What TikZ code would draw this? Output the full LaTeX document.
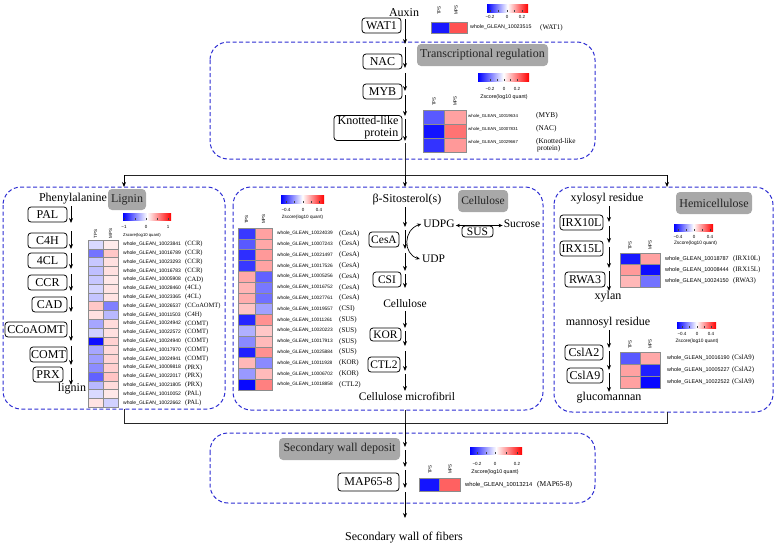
\documentclass[tikz,border=0pt]{standalone}
\usepackage{fontspec}
\setmainfont{Liberation Serif}
\newfontfamily\arial{Liberation Sans}
\usetikzlibrary{arrows.meta}
\definecolor{dashblue}{RGB}{45,45,210}
\definecolor{labgray}{RGB}{168,168,168}

% heatmap: x0, y0 (top), cell width, cell height, list tps/mps colours
\newcommand\heat[5]{%
  \foreach \ca/\cb [count=\i] in {#5} {%
    \fill[\ca] (#1,{#2+(\i-1)*#4}) rectangle ++(#3,#4);
    \fill[\cb] ({#1+#3},{#2+(\i-1)*#4}) rectangle ++(#3,#4);
    \draw[black!45, line width=0.3pt] (#1,{#2+(\i-1)*#4}) rectangle ++(#3,#4)
      ({#1+#3},{#2+(\i-1)*#4}) rectangle ++(#3,#4);
  }}
% gene labels: xgene, xname, y first row, dy, gene size, name size, list, prefix
\newcommand\genes[8]{%
  \foreach \id/\nm [count=\i] in {#7} {%
    \node[anchor=west, font=\arial\fontsize{#5}{#5}\selectfont] (#8g\i) at (#1,{#3+(\i-1)*#4}) {whole\_GLEAN\_\id};
    \node[anchor=west, font=\fontsize{#6}{#6}\selectfont] (#8n\i) at (#2,{#3+(\i-1)*#4}) {\nm};
  }}
% colour legend: x0, y0, w, h, label y, ticks, extra code
\newcommand\zleg[7]{%
  \shade[left color=blue, right color=red, middle color=white] (#1,#2) rectangle ++(#3,#4);
  \foreach \tx/\tl in {#6} {%
    \draw[line width=0.35pt, black!75] (\tx,{#2+#4}) -- ++(0,-2.2);
    \node[tick] at (\tx,#5) {\tl};
  }
  #7}
% TPS / MPS column labels
\newcommand\tpsmps[4]{%
  \node[cond, rotate=90, anchor=west] (#4tps) at (#1,#3) {TPS};
  \node[cond, rotate=90, anchor=west] (#4mps) at (#2,#3) {MPS};}

\begin{document}
\begin{tikzpicture}[x=1pt,y=-1pt,
  font=\fontsize{12}{12}\selectfont,
  every node/.style={inner sep=0pt},
  enz/.style={draw, rounded corners=3pt, line width=0.8pt, minimum height=15pt, inner sep=1pt},
  glab/.style={fill=labgray, rounded corners=4pt, minimum height=22pt, text=black!85},
  dbox/.style={draw=dashblue, dash pattern=on 4pt off 2.5pt, line width=1pt, rounded corners=18pt},
  arr/.style={-{Stealth[length=5pt,width=4pt]}, line width=0.8pt},
  ln/.style={line width=0.9pt, black!85},
  cond/.style={font=\arial\fontsize{4.5}{4.5}\selectfont},
  tick/.style={font=\arial\fontsize{4.5}{4.5}\selectfont},
  zs/.style={font=\arial\fontsize{4.8}{4.8}\selectfont},
  sm/.style={font=\fontsize{11.5}{11.5}\selectfont}]
\useasboundingbox (0,0) rectangle (777,544);

% ---------- dashed panels ----------
\draw[dbox] (210,42) rectangle (595,159);
\draw[dbox] (3,187) rectangle (225,409);
\draw[dbox] (233,187) rectangle (543,410);
\draw[dbox] (554,187) rectangle (773,412);
\draw[dbox] (210,433) rectangle (595,503);

% ---------- top ----------
\node (auxin) at (404,13) {Auxin};
\node[enz, minimum width=39pt] (wat1) at (381.5,25.5) {WAT1};
\heat{431}{22}{18}{11}{blue!90/red!68}
\tpsmps{439}{456}{15}{top}
\genes{470}{540}{27.5}{0}{5.3}{7}{10023515/{(WAT1)}}{top}
\zleg{487}{4}{41}{8}{17}{490/−0.2,498.5/{},507/0,514.5/{},522/0.2}{}

% ---------- transcriptional regulation ----------
\node[glab, minimum width=131pt] (trlab) at (482.5,55) {Transcriptional regulation};
\node[enz, minimum width=39pt] (nac) at (382.5,61.5) {NAC};
\node[enz, minimum width=39pt] (myb) at (382.5,91.5) {MYB};
\node[enz, minimum width=68pt, minimum height=24pt, align=right] (knot) at (368,128) {Knotted-like\\protein};
\heat{423}{110}{21.5}{14}{blue!65/red!37,blue!93/red!55,blue!80/red!40}
\tpsmps{434}{455}{106}{tr}
\genes{468}{536}{116}{13}{4.3}{7.3}{10019634/{(MYB)},10007831/{(NAC)},10029667/{(Knotted-like}}{tr}
\node[anchor=west, font=\fontsize{7.3}{7.3}\selectfont] (trprot) at (537,149) {protein)};
\zleg{478}{73}{51}{8}{89}{490/−0.2,497/{},504/0,510.5/{},517/0.2}{\node[zs, font=\arial\fontsize{5.3}{5.3}\selectfont] (trzs) at (504,97) {Zscore(log10 quant)};}

\draw[arr] (405,19) -- (405,44);
\draw[arr] (405,47) -- (405,68);
\draw[arr] (405,73) -- (405,91);
\draw[arr] (405,95) -- (405,116);
\draw[arr] (405,119) -- (405,141);
\draw[ln] (405,143) -- (405,175);
\draw[ln] (124,175) -- (667,175);
\draw[arr] (124,175) -- (124,187);
\draw[arr] (405,175) -- (405,187);
\draw[arr] (667,175) -- (667,187);

% ---------- lignin ----------
\node (phe) at (73,199) {Phenylalanine};
\node[glab, minimum width=38pt, minimum height=21pt] (liglab) at (127,199.5) {Lignin};
\node[enz, minimum width=39pt] (pal) at (47.5,214.5) {PAL};
\node[enz, minimum width=39pt] (c4h) at (47.5,240.5) {C4H};
\node[enz, minimum width=39pt] (fcl) at (47.5,260.5) {4CL};
\node[enz, minimum width=39pt] (ccr) at (47.5,282.5) {CCR};
\node[enz, minimum width=35pt] (cad) at (49.5,304.5) {CAD};
\node[enz, minimum width=62pt] (ccoaomt) at (36,329.5) {CCoAOMT};
\node[enz, minimum width=37pt] (comt) at (48.5,354.5) {COMT};
\node[enz, minimum width=30pt] (prx) at (48,374.5) {PRX};
\node (lig) at (72,389) {lignin};
\draw[arr] (71,206) -- (71,223);
\draw[arr] (71,231) -- (71,249);
\draw[arr] (71,253) -- (71,269);
\draw[arr] (71,274) -- (71,291);
\draw[arr] (71,296) -- (71,312);
\draw[arr] (71,320) -- (71,341);
\draw[arr] (71,346) -- (71,365);
\draw[arr] (71,368) -- (71,385);
\heat{88}{240}{15}{8.8}{blue!15/red!8,blue!55/red!22,blue!22/red!12,blue!25/red!12,blue!22/red!9,blue!17/red!11,blue!23/red!11,red!22/blue!50,red!12/blue!28,blue!35/red!14,blue!18/red!12,blue!95/red!18,blue!35/red!15,blue!38/red!17,blue!45/red!19,blue!62/red!23,blue!28/red!14,blue!15/red!9,red!11/blue!18}
\tpsmps{95.5}{110.5}{238.5}{lg}
\genes{123}{185}{244.4}{8.8}{5}{6.5}{10023841/{(CCR)},10016789/{(CCR)},10023293/{(CCR)},10016783/{(CCR)},10005908/{(CAD)},10028460/{(4CL)},10023365/{(4CL)},10026537/{(CCoAOMT)},10011503/{(C4H)},10024942/{(COMT)},10022572/{(COMT)},10024940/{(COMT)},10017970/{(COMT)},10024941/{(COMT)},10009818/{(PRX)},10022017/{(PRX)},10021805/{(PRX)},10010052/{(PAL)},10022662/{(PAL)}}{lg}
\zleg{123}{213}{48}{7}{226.5}{124/−1,135/{},146/0,157/{},168/1}{\node[zs, anchor=west, font=\arial\fontsize{4.2}{4.2}\selectfont] (lgzs) at (123,235) {Zscore(log10 quant)};}

% ---------- cellulose ----------
\node (sito) at (407,200) {β-Sitosterol(s)};
\node[glab, minimum width=50pt, sm] (celab) at (483,201) {Cellulose};
\node[enz, minimum width=30pt, sm] (cesa) at (384,239.5) {CesA};
\node[enz, minimum width=28pt, sm] (csi) at (387,279.5) {CSI};
\node[sm] (cell) at (405,304) {Cellulose};
\node[enz, minimum width=31pt, minimum height=13pt, sm] (kor) at (385.5,334.5) {KOR};
\node[enz, minimum width=32pt, sm] (ctl2) at (384,364.5) {CTL2};
\node[sm] (micro) at (407,397) {Cellulose microfibril};
\node[sm] (udpg) at (439,224) {UDPG};
\node[sm] (udp) at (433.5,259) {UDP};
\node[sm] (sucrose) at (522,224) {Sucrose};
\node[enz, minimum width=31pt, minimum height=11pt, sm] (sus) at (477.5,231.5) {SUS};
\draw[arr] (405,207) -- (405,227);
\draw[arr] (405,230) -- (405,249);
\draw[arr] (405,253) -- (405,271);
\draw[arr] (405,274) -- (405,288);
\draw[arr] (405,311) -- (405,328);
\draw[arr] (405,331) -- (405,346);
\draw[arr] (405,351) -- (405,371);
\draw[arr] (405,374) -- (405,391);
\draw[{Stealth[length=4pt,width=3.5pt]}-{Stealth[length=4pt,width=3.5pt]}, line width=0.7pt]
  ([xshift=-2pt]udpg.west) .. controls (403,230) and (403,254) .. ([xshift=-2pt]udp.west);
\draw[{Stealth[length=4pt,width=3.5pt]}-{Stealth[length=4pt,width=3.5pt]}, line width=0.7pt]
  ([xshift=1pt,yshift=-1.5pt]udpg.east) -- ([xshift=-1pt,yshift=-1.5pt]sucrose.west);
\heat{238}{228}{17}{10.8}{blue!78/red!37,blue!65/red!34,blue!82/red!40,blue!78/red!36,red!34/blue!62,red!29/blue!53,red!32/blue!56,red!23/blue!37,blue!85/red!43,blue!31/red!22,blue!46/red!27,blue!88/red!43,red!28/blue!46,blue!40/red!27,blue!97/red!50}
\tpsmps{246.5}{263.5}{224}{ce}
\genes{277}{339}{233.4}{10.8}{4.8}{7}{10024039/{(CesA)},10007243/{(CesA)},10021497/{(CesA)},10017526/{(CesA)},10005256/{(CesA)},10016752/{(CesA)},10027761/{(CesA)},10019557/{(CSI)},10011261/{(SUS)},10020223/{(SUS)},10017913/{(SUS)},10025884/{(SUS)},10011928/{(KOR)},10006702/{(KOR)},10018858/{(CTL2)}}{ce}
\zleg{281}{195}{43}{8}{210}{286/−0.4,294.5/{},303/0,311/{},319/0.4}{\node[zs, font=\arial\fontsize{4.6}{4.6}\selectfont] (cezs) at (302.5,217) {Zscore(log10 quant)};}

% ---------- hemicellulose ----------
\node (xyl) at (607,199) {xylosyl residue};
\node[glab, minimum width=76pt] (hemlab) at (714,203) {Hemicellulose};
\node[enz, minimum width=43pt] (irx10) at (581.5,222.5) {IRX10L};
\node[enz, minimum width=43pt] (irx15) at (581.5,248.5) {IRX15L};
\node[enz, minimum width=40pt] (rwa3) at (585,279.5) {RWA3};
\node (xylan) at (608,297) {xylan};
\node (mann) at (608,323) {mannosyl residue};
\node[enz, minimum width=38pt] (csla2) at (584,352.5) {CslA2};
\node[enz, minimum width=36pt] (csla9) at (585,375.5) {CslA9};
\node (gluco) at (609,398) {glucomannan};
\draw[arr] (609,206) -- (609,222);
\draw[arr] (609,226) -- (609,243);
\draw[arr] (609,247) -- (609,268);
\draw[arr] (609,271) -- (609,291);
\draw[arr] (609,330) -- (609,348);
\draw[arr] (609,351) -- (609,370);
\draw[arr] (609,373) -- (609,392);
\heat{620}{253}{20}{11.3}{blue!90/red!37,red!40/blue!95,red!28/blue!55}
\tpsmps{630}{650}{250}{ha}
\genes{665}{733}{258.7}{11.3}{5.5}{6.8}{10018787/{(IRX10L)},10008444/{(IRX15L)},10024150/{(RWA3)}}{ha}
\zleg{674}{224}{39}{7}{237}{678/−0.4,686/{},694/0,702/{},710/0.4}{\node[zs] (hazs) at (695.5,243) {Zscore(log10 quant)};}
\heat{620}{352}{20}{12}{blue!65/red!34,red!37/blue!88,red!37/blue!97}
\tpsmps{630}{650}{349}{hb}
\genes{667}{732}{358}{12}{5.4}{6.8}{10016190/{(CslA9)},10005227/{(CslA2)},10022522/{(CslA9)}}{hb}
\zleg{677}{322}{39}{6}{334}{682/−0.4,689.5/{},697/0,704/{},711/0.4}{\node[zs] (hbzs) at (697,341) {Zscore(log10 quant)};}

% ---------- merge ----------
\draw[ln] (124,409) -- (124,423) -- (667,423) -- (667,412);
\draw[ln] (405,410) -- (405,423);

% ---------- secondary wall ----------
\node[glab, minimum width=121pt] (swlab) at (339.5,449) {Secondary wall deposit};
\node[enz, minimum width=61pt, minimum height=18pt] (map) at (368.5,482) {MAP65-8};
\draw[arr] (405,423) -- (405,447);
\draw[arr] (405,450) -- (405,467);
\draw[arr] (405,470) -- (405,488);
\draw[arr] (405,492) -- (405,518);
\node (fib) at (404,538) {Secondary wall of fibers};
\heat{419}{478}{20.5}{13}{blue!92/red!62}
\tpsmps{430}{450}{474}{bt}
\genes{465}{537}{485}{0}{5.8}{7.5}{10013214/{(MAP65-8)}}{bt}
\zleg{470}{447}{52}{7}{464}{477/−0.2,486/{},495/0,506/{},517/0.2}{\node[zs, font=\arial\fontsize{5.3}{5.3}\selectfont] (btzs) at (495,472) {Zscore(log10 quant)};}
\end{tikzpicture}
\end{document}
